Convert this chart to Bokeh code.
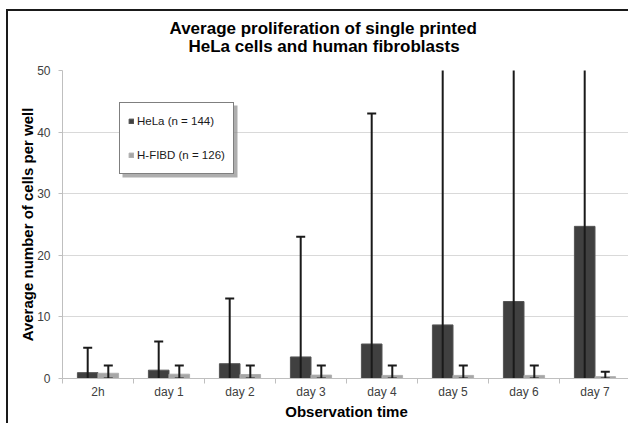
from bokeh.plotting import figure
from bokeh.models import (BoxAnnotation, ColumnDataSource, FixedTicker, Legend,
                          LegendItem, Title)
from bokeh.transform import dodge
from bokeh.embed import file_html
from bokeh.resources import INLINE

categories = ["2h", "day 1", "day 2", "day 3", "day 4", "day 5", "day 6", "day 7"]
hela_mean = [0.95, 1.35, 2.4, 3.5, 5.6, 8.7, 12.5, 24.7]
hela_upper = [5, 6, 13, 23, 43, 62, 80, 110]
fibd_mean = [0.85, 0.7, 0.65, 0.55, 0.5, 0.5, 0.5, 0.3]
fibd_upper = [2.1, 2.1, 2.1, 2.1, 2.1, 2.1, 2.1, 1.1]
y_ticks = [0, 10, 20, 30, 40, 50]
title_lines = ["Average proliferation of single printed",
               "HeLa cells and human fibroblasts"]

FONT = "Liberation Sans"
idx = list(range(len(categories)))
src = ColumnDataSource(dict(x=idx, hela=hela_mean, hela_up=hela_upper,
                            fibd=fibd_mean, fibd_up=fibd_upper,
                            zero=[0] * len(idx)))

W, H = 622, 414
ML, MT, MB = 54, 59, 47
X0, X1, Y0, Y1 = -0.5, 7.5, 0, 50
p = figure(width=W, height=H, x_range=(X0, X1), y_range=(Y0, Y1),
           output_backend="svg", toolbar_location=None,
           min_border_left=ML, min_border_right=0, min_border_top=MT,
           min_border_bottom=MB)
p.outline_line_color = None
p.styles = {"margin-left": "6px", "margin-top": "9px",
            "border-left": "2px solid #1a1a1a", "border-top": "2px solid #1a1a1a"}

dx = 0.145
bw = 0.29
hela_r = p.vbar(x=dodge("x", -dx), top="hela", width=bw, source=src,
                fill_color="#404040", line_color="#555555")
fibd_r = p.vbar(x=dodge("x", dx), top="fibd", width=bw, source=src,
                fill_color="#a6a6a6", line_color="#b0b0b0")

wc = "#1a1a1a"
p.segment(x0=dodge("x", -dx), y0="zero", x1=dodge("x", -dx), y1="hela_up",
          source=src, line_color=wc, line_width=2)
p.scatter(x=dodge("x", -dx), y="hela_up", source=src, marker="dash", size=9,
          line_color=wc, line_width=2)
p.segment(x0=dodge("x", dx), y0="zero", x1=dodge("x", dx), y1="fibd_up",
          source=src, line_color=wc, line_width=2)
p.scatter(x=dodge("x", dx), y="fibd_up", source=src, marker="dash", size=9,
          line_color=wc, line_width=2)
p.scatter(x=dodge("x", dx), y="zero", source=src, marker="dash", size=9,
          line_color=wc, line_width=2)

# axes
p.xgrid.visible = False
p.ygrid.grid_line_color = "#d9d9d9"
p.ygrid.ticker = FixedTicker(ticks=y_ticks)

xa = p.xaxis[0]
xa.ticker = FixedTicker(ticks=idx, minor_ticks=[i - 0.5 for i in range(len(idx) + 1)])
xa.major_label_overrides = {i: c for i, c in zip(idx, categories)}
xa.major_tick_line_color = None
xa.major_tick_out = 0
xa.major_tick_in = 0
xa.minor_tick_out = 5
xa.minor_tick_in = 0
xa.minor_tick_line_color = "#bfbfbf"
xa.axis_line_color = "#bfbfbf"
xa.major_label_standoff = 1
xa.major_label_text_font = FONT
xa.major_label_text_font_size = "12px"
xa.major_label_text_color = "#404040"
xa.axis_label = "Observation time"
xa.axis_label_text_font = FONT
xa.axis_label_text_font_size = "15px"
xa.axis_label_text_font_style = "bold"
xa.axis_label_text_color = "#000000"
xa.axis_label_standoff = 1

ya = p.yaxis[0]
ya.ticker = FixedTicker(ticks=y_ticks)
ya.minor_tick_line_color = None
ya.major_tick_out = 4
ya.major_tick_in = 0
ya.major_tick_line_color = "#bfbfbf"
ya.axis_line_color = "#bfbfbf"
ya.major_label_standoff = 8
ya.major_label_text_font = FONT
ya.major_label_text_font_size = "12px"
ya.major_label_text_color = "#404040"
ya.axis_label = "Average number of cells per well"
ya.axis_label_text_font = FONT
ya.axis_label_text_font_size = "15px"
ya.axis_label_text_font_style = "bold"
ya.axis_label_text_color = "#000000"
ya.axis_label_standoff = -2

# two-line title (line nearest the plot is added first)
p.add_layout(Title(text=title_lines[1], align="left", offset=126, standoff=29,
                   text_font=FONT, text_font_size="17px", text_font_style="bold",
                   text_color="#000000"), "above")
p.add_layout(Title(text=title_lines[0], align="left", offset=107, standoff=-35,
                   text_font=FONT, text_font_size="17px", text_font_style="bold",
                   text_color="#000000"), "above")

# legend with a soft drop shadow
LEG_X, LEG_Y, LEG_W, LEG_H, SH = 57, 204, 115, 72, 3
fw, fh = W - ML, H - MT - MB
sx = (X1 - X0) / fw
sy = (Y1 - Y0) / fh
p.add_layout(BoxAnnotation(left=X0 + (LEG_X + SH) * sx,
                           right=X0 + (LEG_X + LEG_W + SH) * sx,
                           bottom=Y0 + (LEG_Y - SH) * sy,
                           top=Y0 + (LEG_Y + LEG_H - SH) * sy,
                           fill_color="#8c8c8c", fill_alpha=0.7,
                           line_color=None))

legend = Legend(items=[LegendItem(label="HeLa (n = 144)", renderers=[hela_r]),
                       LegendItem(label="H-FIBD (n = 126)", renderers=[fibd_r])],
                location=(LEG_X, LEG_Y), border_line_color="#000000",
                border_line_width=1,
                glyph_width=6, glyph_height=6, label_height=20, spacing=14,
                padding=8, margin=0, label_standoff=3,
                label_text_font=FONT, label_text_font_size="11.5px",
                label_text_color="#1a1a1a", background_fill_alpha=1)
p.add_layout(legend)

open("out.html", "w").write(file_html(p, INLINE))
